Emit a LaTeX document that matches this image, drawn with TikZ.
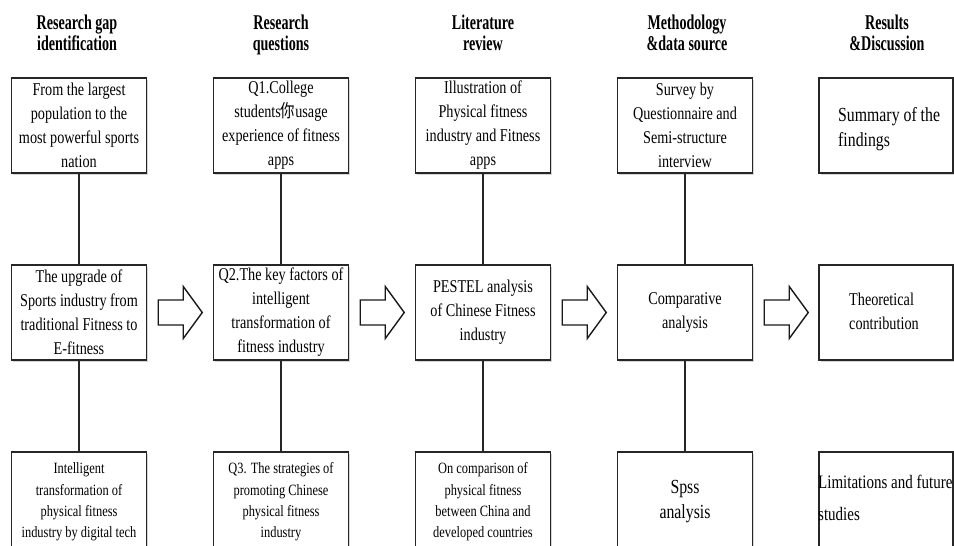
\documentclass[tikz,border=0pt]{standalone}
\usepackage{fontspec}
\setmainfont{Liberation Serif}[FakeStretch=0.79]
\newfontfamily\hdrfont{Liberation Serif}[FakeStretch=0.67]
\newfontfamily\cjkfont{Noto Sans CJK SC}[FakeStretch=0.8]
\usetikzlibrary{calc,shadows}
\newcommand\FntMain{\fontsize{18}{24}\selectfont}
\newcommand\FntSmall{\fontsize{15.7}{21.4}\selectfont}
\newcommand\FntHead{\hdrfont\bfseries\fontsize{21}{21}\selectfont}
\begin{document}
\begin{tikzpicture}[x=1pt,y=-1pt,
  box/.style={draw=black!85, line width=1.5pt, minimum width=135pt, minimum height=95pt,
    inner sep=0pt, align=center, fill=white, text=black, font=\FntMain,
    drop shadow={shadow xshift=1.5pt, shadow yshift=-1.5pt, fill=black!35, opacity=0.45}},
  lowbox/.style={box, minimum height=100pt, font=\FntSmall},
  hdr/.style={anchor=north, inner sep=0pt, align=center, font=\FntHead, text=black},
  sidetxt/.style={anchor=north west, inner sep=0pt, align=left, text=black},
  conn/.style={draw=black!85, line width=1.4pt},
  blockarrow/.style={draw=black!90, line width=1.4pt, fill=white, line join=miter}]
\fill[white] (0,0) rectangle (954,546);
\useasboundingbox (0,0) rectangle (954,546);
% headers
\node[hdr] (h1) at (77,14.7) {Research gap\\identification};
\node[hdr] (h2) at (281,14.7) {Research\\questions};
\node[hdr] (h3) at (483,14.7) {Literature\\review};
\node[hdr] (h4) at (687,14.7) {Methodology\\\&data source};
\node[hdr] (h5) at (887,14.7) {Results\\\&Discussion};
% row 1
\node[box] (a1) at (79,125.5) {From the largest\\population to the\\most powerful sports\\nation};
\node[box] (b1) at (281,125.5) {Q1.College\\students{\cjkfont 你}usage\\experience of fitness\\apps};
\node[box] (c1) at (483,125.5) {Illustration of\\Physical fitness\\industry and Fitness\\apps};
\node[box] (d1) at (685,125.5) {Survey by\\Questionnaire and\\Semi-structure\\interview};
\node[box, minimum width=134pt] (e1) at (886,125.5) {};
\node[sidetxt, font=\fontsize{20}{25}\selectfont] (e1t) at (838,107) {Summary of the\\findings};
% row 2
\node[box] (a2) at (79,312.5) {The upgrade of\\Sports industry from\\traditional Fitness to\\E-fitness};
\node[box] (b2) at (281,312.5) {Q2.The key factors of\\intelligent\\transformation of\\fitness industry};
\node[box] (c2) at (483,312.5) {PESTEL analysis\\of Chinese Fitness\\industry};
\node[box] (d2) at (685,312.5) {Comparative\\analysis};
\node[box, minimum width=134pt] (e2) at (886,312.5) {};
\node[sidetxt, font=\FntMain] (e2t) at (849,293) {Theoretical\\contribution};
% row 3
\node[lowbox] (a3) at (79,502) {Intelligent\\transformation of\\physical fitness\\industry by digital tech};
\node[lowbox] (b3) at (281,502) {Q3. The strategies of\\promoting Chinese\\physical fitness\\industry};
\node[lowbox] (c3) at (483,502) {On comparison of\\physical fitness\\between China and\\developed countries};
\node[lowbox, font=\fontsize{20}{25}\selectfont] (d3) at (685,502) {Spss\\analysis};
\node[lowbox, minimum width=134pt] (e3) at (886,502) {};
\node[sidetxt, font=\fontsize{19}{32}\selectfont] (e3t) at (818,475) {Limitations and future\\studies};
% vertical connectors
\foreach \c in {a,b,c,d}{
  \draw[conn] (\c1.south) -- (\c2.north);
  \draw[conn] (\c2.south) -- (\c3.north);
}
% block arrows
\foreach \l in {a2,b2,c2,d2}{
  \draw[blockarrow] ($(\l.east)+(11,-12.5)$) -- ($(\l.east)+(36,-12.5)$) -- ($(\l.east)+(36,-26)$)
    -- ($(\l.east)+(55,0)$) -- ($(\l.east)+(36,26)$) -- ($(\l.east)+(36,12.5)$)
    -- ($(\l.east)+(11,12.5)$) -- cycle;
}
\end{tikzpicture}
\end{document}
